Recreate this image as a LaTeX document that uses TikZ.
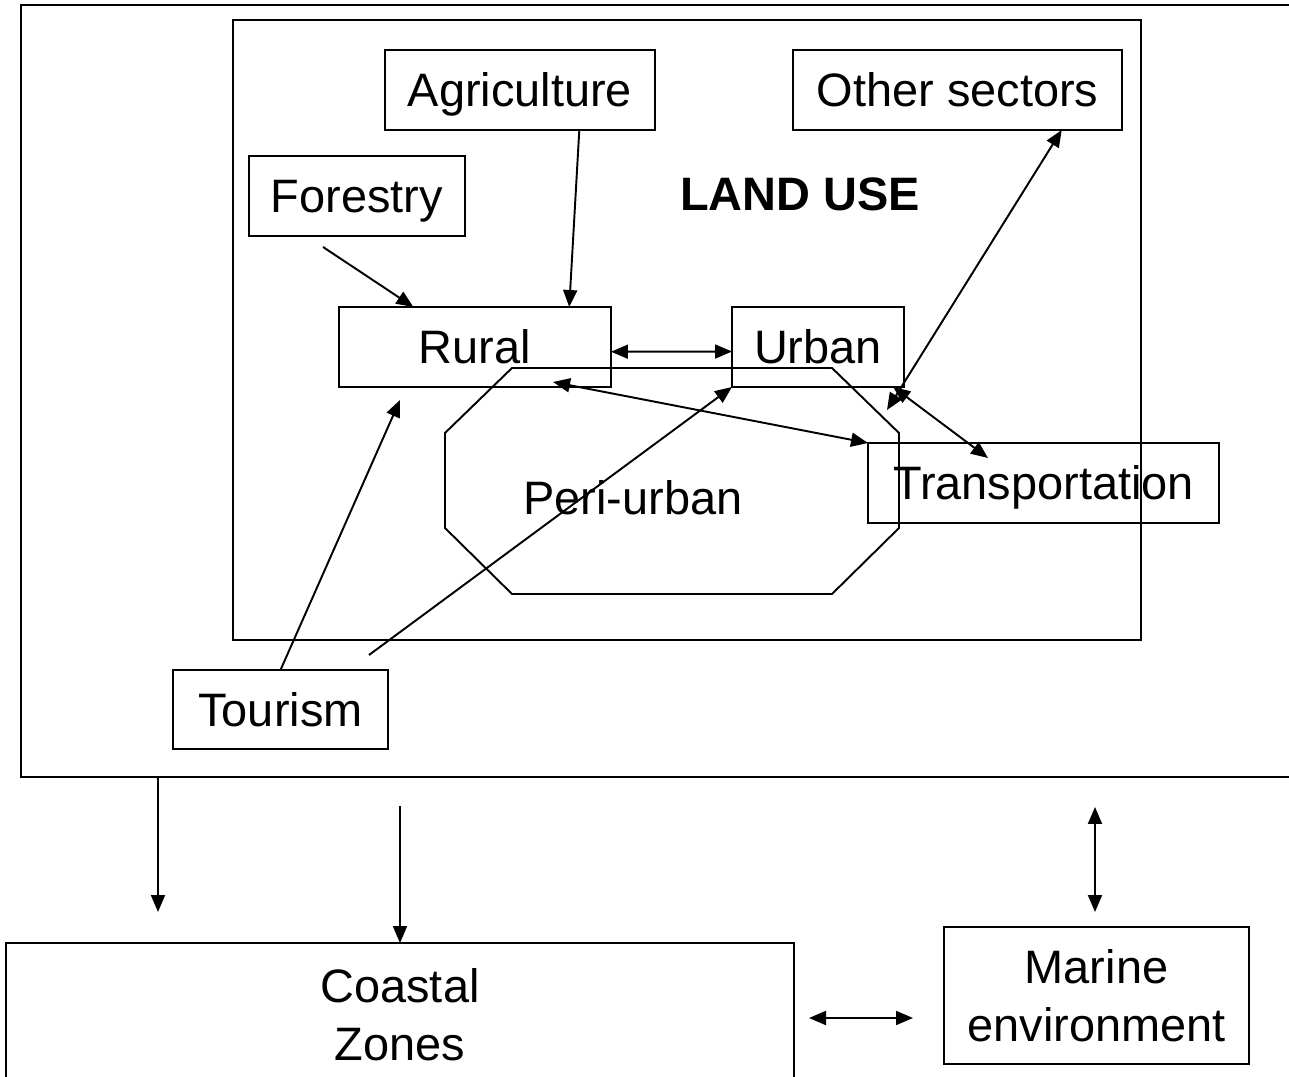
\documentclass[tikz,border=0pt]{standalone}
\usepackage{fontspec}
\setmainfont{Liberation Sans}
\usetikzlibrary{arrows.meta,calc}

\begin{document}
\begin{tikzpicture}[x=0.02cm, y=-0.02cm,
    font=\fontsize{26.7pt}{33pt}\selectfont,
    txt/.style={text height=19.1pt, text depth=0pt},
    box/.style={draw, line width=1.1pt, inner sep=0pt, outer sep=0pt, txt},
    twobox/.style={draw, line width=1.1pt, inner sep=0pt, outer sep=0pt, align=center},
    link/.style={line width=1.1pt, -{Triangle[length=0.34cm,width=0.28cm]}},
    both/.style={line width=1.1pt, {Triangle[length=0.34cm,width=0.28cm]}-{Triangle[length=0.34cm,width=0.28cm]}},
  ]

    \useasboundingbox (0,0) rectangle (1289,1077);

    %draw the frames
    \draw[line width=1.1pt] (1289,5) -- (21,5) -- (21,777) -- (1289,777);
    \draw[line width=1.1pt] (233,20) rectangle (1141,640);

    %draw the peri-urban area
    \draw[line width=1.1pt] (512,368) -- (832,368) -- (899,433) -- (899,528) -- (832,594) -- (512,594) -- (445,528) -- (445,433) -- cycle;
    \node[txt] (peri) at (633,498) {Peri-urban};

    %sectors
    \node[box, minimum width=5.4cm, minimum height=1.6cm] (agri) at (520,90) {Agriculture};
    \node[box, minimum width=6.58cm, minimum height=1.6cm] (other) at (957.5,90) {Other sectors};
    \node[box, minimum width=4.32cm, minimum height=1.6cm] (forest) at (357,196) {Forestry};
    \node[txt, font=\fontsize{26.7pt}{33pt}\selectfont\bfseries] (landuse) at (800,193.5) {LAND USE};
    \node[box, minimum width=5.44cm, minimum height=1.6cm] (rural) at (475,347) {Rural};
    \node[box, minimum width=3.44cm, minimum height=1.6cm] (urban) at (818,347) {Urban};
    \node[box, minimum width=7.02cm, minimum height=1.6cm] (transport) at (1043.5,483) {Transportation};
    \node[box, minimum width=4.3cm, minimum height=1.58cm] (tourism) at (280.5,709.5) {Tourism};

    %bottom boxes
    \node[twobox, minimum width=6.1cm, minimum height=2.74cm] (marine) at (1096.5,995.5) {Marine\\environment};
    \node[twobox, minimum width=15.76cm, minimum height=2.88cm] (coastal) at (400,1015) {Coastal\\Zones};

    %free ends
    \coordinate (fstart) at (323,247);
    \coordinate (otip) at (887,410);
    \coordinate (ttip) at (988,458);
    \coordinate (rtip) at (553,382);
    \coordinate (rbelow) at (400,400);
    \coordinate (tstart) at (369,655);
    \coordinate (o1) at (158,777);
    \coordinate (d1) at (158,912);
    \coordinate (d2) at (400,806);
    \coordinate (m1) at (1095,807);
    \coordinate (m2) at (1095,912);
    \coordinate (c1) at (809,1018);
    \coordinate (c2) at (913,1018);

    %links inside land use
    \draw[link] (fstart) -- (rural.147);
    \draw[link] (agri.-34) -- (rural.23.5);
    \draw[both] (rural.-2) -- (urban.183);
    \draw[both] (other.-21) -- (otip);
    \draw[both] (urban.-28) -- (ttip);
    \draw[both] (rtip) -- (transport.north west);
    \draw[link] (tourism.north) -- (rbelow);
    \draw[link] (tstart) -- (urban.south west);

    %links to the coast
    \draw[link] (o1) -- (d1);
    \draw[link] (d2) -- (coastal.north);
    \draw[both] (m1) -- (m2);
    \draw[both] (c1) -- (c2);

\end{tikzpicture}
\end{document}
